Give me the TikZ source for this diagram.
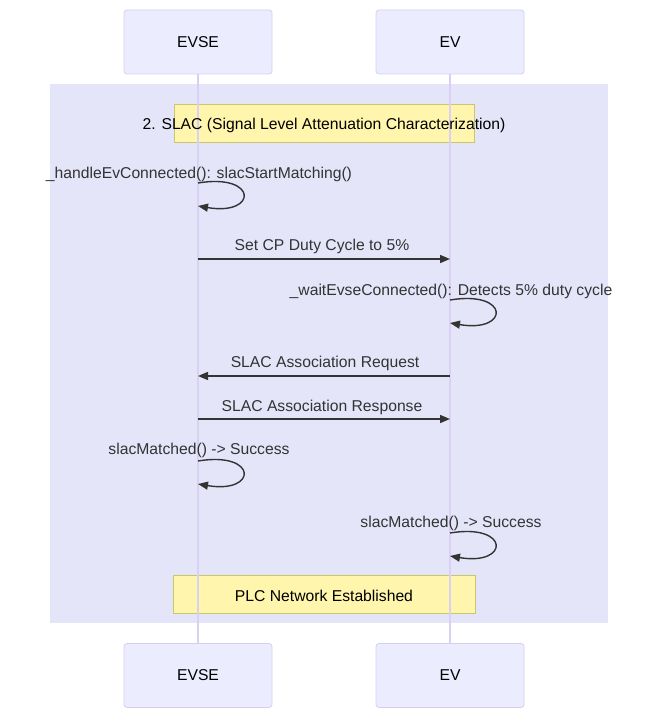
\documentclass[tikz,border=0pt]{standalone}
\usepackage{fontspec}
\setmainfont{Liberation Sans}
\usetikzlibrary{arrows.meta}
\definecolor{actfill}{HTML}{ECECFF}
\definecolor{actdraw}{HTML}{D6CEF2}
\definecolor{lifec}{HTML}{D9D0F3}
\definecolor{rectbg}{HTML}{E5E5FA}
\definecolor{notefill}{HTML}{FFF5AD}
\definecolor{notedraw}{HTML}{C8C86A}
\definecolor{linec}{HTML}{333333}
\tikzset{
  actor/.style={draw=actdraw, fill=actfill, line width=0.8pt, rounded corners=3pt, minimum width=148pt, minimum height=64pt, inner sep=0pt, font=\fontsize{15.7}{18}\selectfont},
  notebox/.style={draw=notedraw, fill=notefill, line width=0.8pt, minimum height=38pt, inner sep=0pt, font=\fontsize{15.7}{18}\selectfont},
  lifeline/.style={draw=lifec, line width=1.4pt},
  msg/.style={draw=linec, line width=1.4pt, -{Triangle[length=10pt,width=8pt]}},
  lbl/.style={font=\fontsize{15.7}{18}\selectfont, text=linec, inner sep=0pt, anchor=center}
}
\begin{document}
\begin{tikzpicture}[x=1pt,y=-1pt]
\useasboundingbox (0,0) rectangle (666,727);
% group background
\fill[rectbg] (50,84) rectangle (608,623);
% actors
\node[actor] (evseTop) at (198,42) {EVSE};
\node[actor] (evTop) at (450,42) {EV};
\node[actor] (evseBot) at (198,675.5) {EVSE};
\node[actor] (evBot) at (450,675.5) {EV};
% notes
\node[notebox, minimum width=300pt] (note1) at (324,123) {};
\node[notebox, minimum width=302pt] (note2) at (324,594.5) {};
% lifelines
\draw[lifeline] (evseTop.south) -- (evseBot.north);
\draw[lifeline] (evTop.south) -- (evBot.north);
% note texts
\node[lbl, text=black] (note1t) at (324,125) {2. SLAC (Signal Level Attenuation Characterization)};
\node[lbl, text=black] (note2t) at (324,596) {PLC Network Established};
% coordinates on lifelines
\coordinate (l1a) at (198,183); \coordinate (l1b) at (198,206);
\coordinate (m1a) at (198,259); \coordinate (m1b) at (450,259);
\coordinate (l2a) at (450,300); \coordinate (l2b) at (450,323);
\coordinate (m2a) at (450,376); \coordinate (m2b) at (198,376);
\coordinate (m3a) at (198,419); \coordinate (m3b) at (450,419);
\coordinate (l3a) at (198,461); \coordinate (l3b) at (198,484);
\coordinate (l4a) at (450,533); \coordinate (l4b) at (450,556);
% self loop 1
\node[lbl] (t1) at (199,174) {\_handleEvConnected(): slacStartMatching()};
\draw[msg] (l1a) .. controls +(60,-10) and +(60,10) .. (l1b);
% message 1
\node[lbl] (t2) at (322,246) {Set CP Duty Cycle to 5\%};
\draw[msg] (m1a) -- (m1b);
% self loop 2
\node[lbl] (t3) at (451,291) {\_waitEvseConnected(): Detects 5\% duty cycle};
\draw[msg] (l2a) .. controls +(60,-10) and +(60,10) .. (l2b);
% message 2
\node[lbl] (t4) at (325,363) {SLAC Association Request};
\draw[msg] (m2a) -- (m2b);
% message 3
\node[lbl] (t5) at (322,407) {SLAC Association Response};
\draw[msg] (m3a) -- (m3b);
% self loop 3
\node[lbl] (t6) at (199,450) {slacMatched() -> Success};
\draw[msg] (l3a) .. controls +(60,-10) and +(60,10) .. (l3b);
% self loop 4
\node[lbl] (t7) at (451,523) {slacMatched() -> Success};
\draw[msg] (l4a) .. controls +(60,-10) and +(60,10) .. (l4b);
\end{tikzpicture}
\end{document}
